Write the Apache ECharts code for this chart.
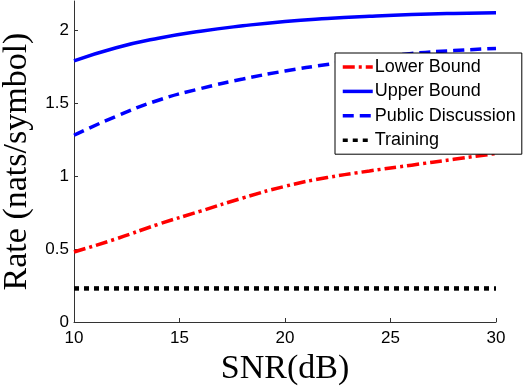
<!DOCTYPE html>
<html><head><meta charset="utf-8">
<script src="https://cdn.jsdelivr.net/npm/echarts@6/dist/echarts.min.js"></script>
<style>html,body{margin:0;padding:0;background:#fff}#c{width:526px;height:388px}</style>
</head><body><div id="c"></div>
<script>
const snr = [10, 12, 14, 16, 18, 20, 22, 24, 26, 28, 30];
const lowerBound = [0.48, 0.57, 0.67, 0.76, 0.85, 0.93, 0.99, 1.035, 1.075, 1.115, 1.155];
const upperBound = [1.79, 1.88, 1.945, 1.993, 2.03, 2.06, 2.08, 2.095, 2.107, 2.115, 2.12];
const publicDiscussion = [1.28, 1.41, 1.52, 1.60, 1.665, 1.72, 1.765, 1.805, 1.84, 1.86, 1.875];
const trainingX = [10, 30];
const training = [0.23, 0.23];
const yTicks = [0, 0.5, 1, 1.5, 2];
const xTicks = [10, 15, 20, 25, 30];
const names = ['Lower Bound', 'Upper Bound', 'Public Discussion', 'Training'];

const zip = (xs, ys) => xs.map((x, i) => [x, ys[i]]);
const chart = echarts.init(document.getElementById('c'), null, {renderer: 'canvas'});
const axisCommon = {
  axisLine: {show: true, lineStyle: {color: '#333', width: 1}},
  axisTick: {show: true, inside: true, length: 4, lineStyle: {color: '#333'}},
  splitLine: {show: false},
  axisLabel: {color: '#000', fontFamily: 'Liberation Sans', fontSize: 17},
  nameTextStyle: {color: '#000', fontFamily: 'Liberation Serif', fontSize: 34}
};
chart.setOption({
  animation: false,
  backgroundColor: '#fff',
  grid: {left: 74, right: 30, top: 1, bottom: 66, containLabel: false, outerBoundsMode: 'none'},
  xAxis: Object.assign({}, axisCommon, {
    type: 'value', min: 10, max: 30, interval: 5,
    name: 'SNR(dB)', nameLocation: 'middle', nameGap: 29,
    axisTick: Object.assign({}, axisCommon.axisTick, {customValues: xTicks}),
    axisLabel: Object.assign({}, axisCommon.axisLabel, {margin: 8, customValues: xTicks})
  }),
  yAxis: Object.assign({}, axisCommon, {
    type: 'value', min: 0, max: 2.2, interval: 0.5,
    name: 'Rate (nats/symbol)', nameLocation: 'middle', nameGap: 32,
    axisTick: Object.assign({}, axisCommon.axisTick, {customValues: yTicks}),
    axisLabel: Object.assign({}, axisCommon.axisLabel, {margin: 5, customValues: yTicks})
  }),
  legend: {
    data: names, orient: 'vertical', left: 335, top: 53,
    backgroundColor: '#fff', borderColor: '#000', borderWidth: 1,
    padding: [5, 6, 5, 6], itemGap: 6.4, itemWidth: 30, itemHeight: 14,
    itemStyle: {opacity: 0},
    lineStyle: {width: 3.5},
    textStyle: {fontFamily: 'Liberation Sans', fontSize: 18, color: '#000', padding: [0, 0, 0, -3]}
  },
  series: [
    {name: names[0], type: 'line', smooth: true, showSymbol: false, symbol: 'none', data: zip(snr, lowerBound),
     lineStyle: {color: '#ff0000', width: 3.5, type: [12, 4, 3, 4]}, itemStyle: {color: '#ff0000'}},
    {name: names[1], type: 'line', smooth: true, showSymbol: false, symbol: 'none', data: zip(snr, upperBound),
     lineStyle: {color: '#0000ff', width: 3.5, type: 'solid'}, itemStyle: {color: '#0000ff'}},
    {name: names[2], type: 'line', smooth: true, showSymbol: false, symbol: 'none', data: zip(snr, publicDiscussion),
     lineStyle: {color: '#0000ff', width: 3.5, type: [11, 6]}, itemStyle: {color: '#0000ff'}},
    {name: names[3], type: 'line', showSymbol: false, symbol: 'none', data: zip(trainingX, training),
     lineStyle: {color: '#000', width: 4.5, type: [5, 5]}, itemStyle: {color: '#000'}}
  ]
});
</script></body></html>
